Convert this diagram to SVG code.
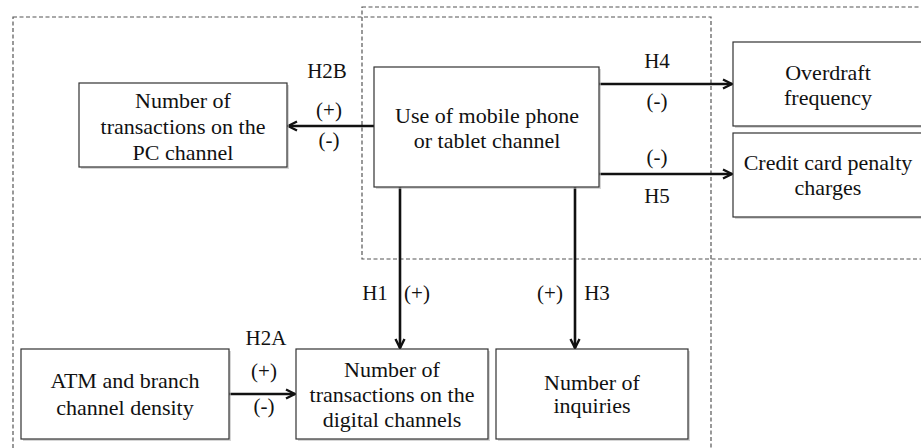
<svg xmlns="http://www.w3.org/2000/svg" width="921" height="448" viewBox="0 0 921 448">
<style>
.box{fill:#fff;stroke:#333;stroke-width:1.2}
.shadow{fill:#bbb;opacity:0.6}
.dash{fill:none;stroke:#555;stroke-width:1.2;stroke-dasharray:4 2.5}
.t{font-family:'Liberation Serif','DejaVu Serif',serif;font-size:22px;fill:#111;text-anchor:middle}
.lab{font-family:'Liberation Serif','DejaVu Serif',serif;font-size:21px;fill:#111;text-anchor:middle}
.arr{fill:none;stroke:#111;stroke-width:2.6}
</style>
<defs>
<marker id="ah" viewBox="0 0 12 12" refX="11" refY="6" markerWidth="12" markerHeight="12" markerUnits="userSpaceOnUse" orient="auto">
<path d="M2,1.5 L11,6 L2,10.5" fill="none" stroke="#111" stroke-width="2.4"/>
</marker>
</defs>
<g id="regions">
<rect class="dash" x="13" y="17" width="698" height="460"/>
<rect class="dash" x="362" y="7" width="600" height="252"/>
</g>
<g id="connectors">
<line class="arr" x1="374" y1="126" x2="288" y2="126" marker-end="url(#ah)"/>
<line class="arr" x1="599" y1="84" x2="732" y2="84" marker-end="url(#ah)"/>
<line class="arr" x1="599" y1="174" x2="732" y2="174" marker-end="url(#ah)"/>
<line class="arr" x1="400" y1="187" x2="400" y2="348" marker-end="url(#ah)"/>
<line class="arr" x1="575" y1="187" x2="575" y2="348" marker-end="url(#ah)"/>
<line class="arr" x1="229" y1="394" x2="295" y2="394" marker-end="url(#ah)"/>
<text class="lab" x="327" y="78">H2B</text>
<text class="lab" x="329" y="117">(+)</text>
<text class="lab" x="329" y="147">(-)</text>
<text class="lab" x="657" y="68">H4</text>
<text class="lab" x="657" y="108">(-)</text>
<text class="lab" x="657" y="164">(-)</text>
<text class="lab" x="657" y="203">H5</text>
<text class="lab" x="375" y="300">H1</text>
<text class="lab" x="417" y="300">(+)</text>
<text class="lab" x="550" y="300">(+)</text>
<text class="lab" x="597" y="300">H3</text>
<text class="lab" x="266" y="345">H2A</text>
<text class="lab" x="264" y="378">(+)</text>
<text class="lab" x="264" y="413">(-)</text>
</g>
<g id="pc">
<rect class="shadow" x="81" y="85" width="208" height="84"/>
<rect class="box" x="79" y="83" width="208" height="84"/>
<text class="t" x="183" y="108">Number of</text>
<text class="t" x="183" y="134">transactions on the</text>
<text class="t" x="183" y="160">PC channel</text>
</g>
<g id="mobile">
<rect class="shadow" x="376" y="69" width="225" height="120"/>
<rect class="box" x="374" y="67" width="225" height="120"/>
<text class="t" x="487" y="123">Use of mobile phone</text>
<text class="t" x="487" y="148">or tablet channel</text>
</g>
<g id="overdraft">
<rect class="shadow" x="735" y="44" width="200" height="84"/>
<rect class="box" x="733" y="42" width="200" height="84"/>
<text class="t" x="828" y="80">Overdraft</text>
<text class="t" x="828" y="105">frequency</text>
</g>
<g id="credit">
<rect class="shadow" x="735" y="135" width="200" height="84"/>
<rect class="box" x="733" y="133" width="200" height="84"/>
<text class="t" x="828" y="170">Credit card penalty</text>
<text class="t" x="828" y="195">charges</text>
</g>
<g id="atm">
<rect class="shadow" x="23" y="351" width="208" height="90"/>
<rect class="box" x="21" y="349" width="208" height="90"/>
<text class="t" x="125" y="388">ATM and branch</text>
<text class="t" x="125" y="415">channel density</text>
</g>
<g id="digital">
<rect class="shadow" x="298" y="351" width="192" height="90"/>
<rect class="box" x="296" y="349" width="192" height="90"/>
<text class="t" x="392" y="377">Number of</text>
<text class="t" x="392" y="402">transactions on the</text>
<text class="t" x="392" y="427">digital channels</text>
</g>
<g id="inquiries">
<rect class="shadow" x="498" y="351" width="192" height="90"/>
<rect class="box" x="496" y="349" width="192" height="90"/>
<text class="t" x="592" y="390">Number of</text>
<text class="t" x="592" y="413">inquiries</text>
</g>
</svg>
